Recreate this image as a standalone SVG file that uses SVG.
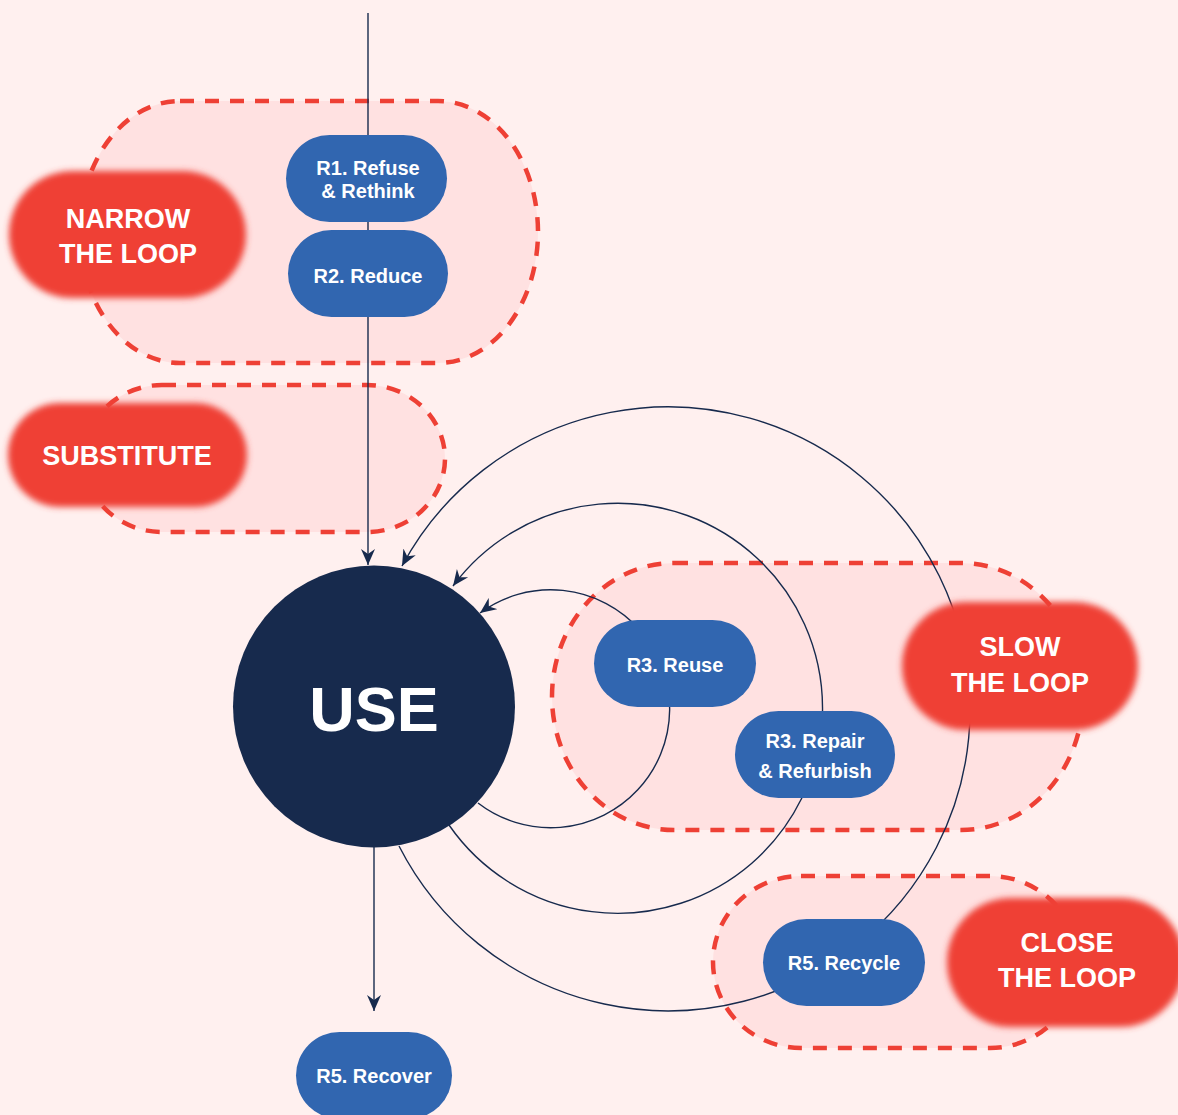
<svg xmlns="http://www.w3.org/2000/svg" width="1178" height="1115" viewBox="0 0 1178 1115">
<defs>
<style>
.grp{fill:#ffe1e1;stroke:#ee4035;stroke-width:4.5;stroke-dasharray:14 11}
.con{fill:none;stroke:#172a4d;stroke-width:1.4}
.node{fill:#3166b0}
.ntxt{font-family:"Liberation Sans",Arial,sans-serif;font-weight:bold;font-size:20px;fill:#ffffff;text-anchor:middle}
.lbl{fill:#ef4136;filter:url(#soft)}
.ltxt{font-family:"Liberation Sans",Arial,sans-serif;font-weight:bold;font-size:27px;fill:#ffffff;text-anchor:middle}
</style>
<filter id="soft" x="-10%" y="-20%" width="120%" height="140%">
<feGaussianBlur stdDeviation="3"/>
</filter>
<marker id="arr" viewBox="-16 -8 17 16" refX="0" refY="0" markerWidth="17" markerHeight="16" markerUnits="userSpaceOnUse" orient="auto">
<path d="M0,0 L-16,-7 L-11,0 L-16,7 z" fill="#172a4d"/>
</marker>
</defs>
<rect x="0" y="0" width="1178" height="1115" fill="#fff0ef"/>

<g id="groups">
<rect id="grp-narrow" class="grp" x="80" y="101" width="458" height="262" rx="100" ry="131"/>
<rect id="grp-substitute" class="grp" x="84" y="385" width="361" height="147" rx="78" ry="73.5"/>
<rect id="grp-slow" class="grp" x="552" y="563" width="531" height="267" rx="122" ry="133.5"/>
<rect id="grp-close" class="grp" x="713" y="876" width="365" height="172" rx="88" ry="86"/>
</g>

<g id="connectors">
<line class="con" x1="368" y1="13" x2="368" y2="565" marker-end="url(#arr)"/>
<line class="con" x1="374" y1="847" x2="374" y2="1011" marker-end="url(#arr)"/>
<path class="con" d="M478,803 A119,119 0 1 0 480,613" marker-end="url(#arr)"/>
<path class="con" d="M449,825 A205,205 0 1 0 453,586" marker-end="url(#arr)"/>
<path class="con" d="M399,846 A302,302 0 1 0 402,566" marker-end="url(#arr)"/>
</g>

<g id="node-r1">
<rect class="node" x="286" y="135" width="161" height="87" rx="43.5"/>
<text class="ntxt" x="368" y="175">R1. Refuse</text>
<text class="ntxt" x="368" y="198">&amp; Rethink</text>
</g>
<g id="node-r2">
<rect class="node" x="288" y="230" width="160" height="87" rx="43.5"/>
<text class="ntxt" x="368" y="283">R2. Reduce</text>
</g>
<g id="node-reuse">
<rect class="node" x="594" y="620" width="162" height="87" rx="43.5"/>
<text class="ntxt" x="675" y="672">R3. Reuse</text>
</g>
<g id="node-repair">
<rect class="node" x="735" y="711" width="160" height="87" rx="43.5"/>
<text class="ntxt" x="815" y="748">R3. Repair</text>
<text class="ntxt" x="815" y="778">&amp; Refurbish</text>
</g>
<g id="node-recycle">
<rect class="node" x="763" y="919" width="162" height="87" rx="43.5"/>
<text class="ntxt" x="844" y="970">R5. Recycle</text>
</g>
<g id="node-recover">
<rect class="node" x="296" y="1032" width="156" height="87" rx="43.5"/>
<text class="ntxt" x="374" y="1083">R5. Recover</text>
</g>

<g id="node-use">
<circle cx="374" cy="706.5" r="141" fill="#172a4d"/>
<text x="374" y="731" font-family="Liberation Sans, Arial, sans-serif" font-weight="bold" font-size="63" fill="#ffffff" text-anchor="middle">USE</text>
</g>

<g id="label-narrow">
<rect class="lbl" x="9" y="171" width="237" height="127" rx="63.5"/>
<text class="ltxt" x="128" y="228">NARROW</text>
<text class="ltxt" x="128" y="263">THE LOOP</text>
</g>
<g id="label-substitute">
<rect class="lbl" x="8" y="403" width="239" height="104" rx="52"/>
<text class="ltxt" x="127" y="465">SUBSTITUTE</text>
</g>
<g id="label-slow">
<rect class="lbl" x="902" y="602" width="236" height="128" rx="64"/>
<text class="ltxt" x="1020" y="656">SLOW</text>
<text class="ltxt" x="1020" y="692">THE LOOP</text>
</g>
<g id="label-close">
<rect class="lbl" x="947" y="898" width="237" height="129" rx="64"/>
<text class="ltxt" x="1067" y="952">CLOSE</text>
<text class="ltxt" x="1067" y="987">THE LOOP</text>
</g>
</svg>
